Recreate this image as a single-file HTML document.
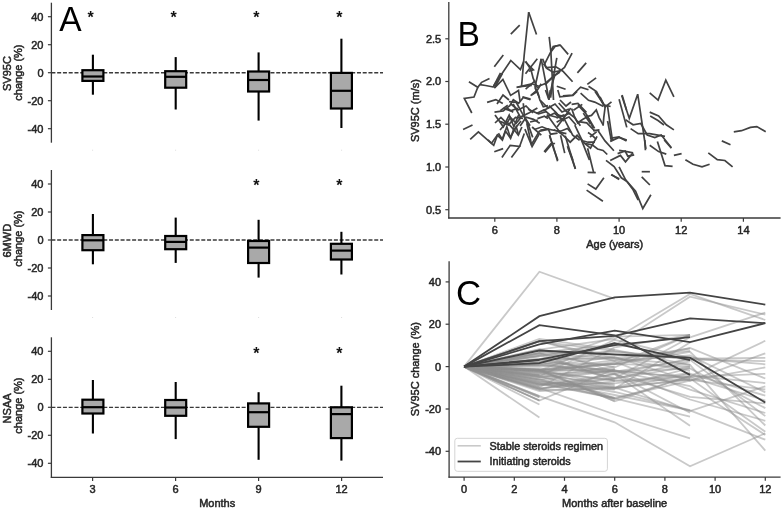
<!DOCTYPE html>
<html><head><meta charset="utf-8"><style>
html,body{margin:0;padding:0;background:#fff;}
svg{display:block;font-family:"Liberation Sans", sans-serif;will-change:transform;}
.s{stroke:#262626;stroke-width:0.5px;}
</style></head><body>
<svg width="783" height="510" viewBox="0 0 783 510">

<line x1="51.4" y1="2.7" x2="51.4" y2="142.7" stroke="#3a3a3a" stroke-width="1.3" />
<line x1="47.9" y1="16.7" x2="51.4" y2="16.7" stroke="#3a3a3a" stroke-width="1.2" />
<text class="s" x="43.5" y="20.6" font-size="11" text-anchor="end" fill="#262626" >40</text>
<line x1="47.9" y1="44.7" x2="51.4" y2="44.7" stroke="#3a3a3a" stroke-width="1.2" />
<text class="s" x="43.5" y="48.6" font-size="11" text-anchor="end" fill="#262626" >20</text>
<line x1="47.9" y1="72.7" x2="51.4" y2="72.7" stroke="#3a3a3a" stroke-width="1.2" />
<text class="s" x="43.5" y="76.6" font-size="11" text-anchor="end" fill="#262626" >0</text>
<line x1="47.9" y1="100.7" x2="51.4" y2="100.7" stroke="#3a3a3a" stroke-width="1.2" />
<text class="s" x="43.5" y="104.6" font-size="11" text-anchor="end" fill="#262626" >-20</text>
<line x1="47.9" y1="128.7" x2="51.4" y2="128.7" stroke="#3a3a3a" stroke-width="1.2" />
<text class="s" x="43.5" y="132.6" font-size="11" text-anchor="end" fill="#262626" >-40</text>
<line x1="51.4" y1="72.7" x2="383" y2="72.7" stroke="#3a3a3a" stroke-width="1.35" stroke-dasharray="4 1.765"/>
<line x1="51.4" y1="170" x2="51.4" y2="310" stroke="#3a3a3a" stroke-width="1.3" />
<line x1="47.9" y1="184" x2="51.4" y2="184" stroke="#3a3a3a" stroke-width="1.2" />
<text class="s" x="43.5" y="187.9" font-size="11" text-anchor="end" fill="#262626" >40</text>
<line x1="47.9" y1="212" x2="51.4" y2="212" stroke="#3a3a3a" stroke-width="1.2" />
<text class="s" x="43.5" y="215.9" font-size="11" text-anchor="end" fill="#262626" >20</text>
<line x1="47.9" y1="240" x2="51.4" y2="240" stroke="#3a3a3a" stroke-width="1.2" />
<text class="s" x="43.5" y="243.9" font-size="11" text-anchor="end" fill="#262626" >0</text>
<line x1="47.9" y1="268" x2="51.4" y2="268" stroke="#3a3a3a" stroke-width="1.2" />
<text class="s" x="43.5" y="271.9" font-size="11" text-anchor="end" fill="#262626" >-20</text>
<line x1="47.9" y1="296" x2="51.4" y2="296" stroke="#3a3a3a" stroke-width="1.2" />
<text class="s" x="43.5" y="299.9" font-size="11" text-anchor="end" fill="#262626" >-40</text>
<line x1="51.4" y1="240" x2="383" y2="240" stroke="#3a3a3a" stroke-width="1.35" stroke-dasharray="4 1.765"/>
<line x1="51.4" y1="337.3" x2="51.4" y2="477.9" stroke="#3a3a3a" stroke-width="1.3" />
<line x1="47.9" y1="351.3" x2="51.4" y2="351.3" stroke="#3a3a3a" stroke-width="1.2" />
<text class="s" x="43.5" y="355.2" font-size="11" text-anchor="end" fill="#262626" >40</text>
<line x1="47.9" y1="379.3" x2="51.4" y2="379.3" stroke="#3a3a3a" stroke-width="1.2" />
<text class="s" x="43.5" y="383.2" font-size="11" text-anchor="end" fill="#262626" >20</text>
<line x1="47.9" y1="407.3" x2="51.4" y2="407.3" stroke="#3a3a3a" stroke-width="1.2" />
<text class="s" x="43.5" y="411.2" font-size="11" text-anchor="end" fill="#262626" >0</text>
<line x1="47.9" y1="435.3" x2="51.4" y2="435.3" stroke="#3a3a3a" stroke-width="1.2" />
<text class="s" x="43.5" y="439.2" font-size="11" text-anchor="end" fill="#262626" >-20</text>
<line x1="47.9" y1="463.3" x2="51.4" y2="463.3" stroke="#3a3a3a" stroke-width="1.2" />
<text class="s" x="43.5" y="467.2" font-size="11" text-anchor="end" fill="#262626" >-40</text>
<line x1="51.4" y1="407.3" x2="383" y2="407.3" stroke="#3a3a3a" stroke-width="1.35" stroke-dasharray="4 1.765"/>
<line x1="50.8" y1="477.3" x2="383" y2="477.3" stroke="#3a3a3a" stroke-width="1.3" />
<line x1="92.6" y1="477.3" x2="92.6" y2="481" stroke="#3a3a3a" stroke-width="1.2" />
<text class="s" x="92.6" y="492.7" font-size="11" text-anchor="middle" fill="#262626" >3</text>
<line x1="175.6" y1="477.3" x2="175.6" y2="481" stroke="#3a3a3a" stroke-width="1.2" />
<text class="s" x="175.6" y="492.7" font-size="11" text-anchor="middle" fill="#262626" >6</text>
<line x1="258.6" y1="477.3" x2="258.6" y2="481" stroke="#3a3a3a" stroke-width="1.2" />
<text class="s" x="258.6" y="492.7" font-size="11" text-anchor="middle" fill="#262626" >9</text>
<line x1="341.6" y1="477.3" x2="341.6" y2="481" stroke="#3a3a3a" stroke-width="1.2" />
<text class="s" x="341.6" y="492.7" font-size="11" text-anchor="middle" fill="#262626" >12</text>
<text class="s" x="217.2" y="506.6" font-size="11" text-anchor="middle" fill="#262626" >Months</text>
<rect x="92.1" y="149.7" width="1" height="1" fill="#ddd"/>
<rect x="92.1" y="317" width="1" height="1" fill="#ddd"/>
<rect x="175.1" y="149.7" width="1" height="1" fill="#ddd"/>
<rect x="175.1" y="317" width="1" height="1" fill="#ddd"/>
<rect x="258.1" y="149.7" width="1" height="1" fill="#ddd"/>
<rect x="258.1" y="317" width="1" height="1" fill="#ddd"/>
<rect x="341.1" y="149.7" width="1" height="1" fill="#ddd"/>
<rect x="341.1" y="317" width="1" height="1" fill="#ddd"/>
<text class="s" transform="translate(10.5,73.6) rotate(-90)" font-size="11" text-anchor="middle" fill="#262626">SV95C</text>
<text class="s" transform="translate(21.5,72.6) rotate(-90)" font-size="11" text-anchor="middle" fill="#262626">change (%)</text>
<text class="s" transform="translate(10.5,240.7) rotate(-90)" font-size="11" text-anchor="middle" fill="#262626">6MWD</text>
<text class="s" transform="translate(21.5,238.6) rotate(-90)" font-size="11" text-anchor="middle" fill="#262626">change (%)</text>
<text class="s" transform="translate(10.5,408.4) rotate(-90)" font-size="11" text-anchor="middle" fill="#262626">NSAA</text>
<text class="s" transform="translate(21.5,405.6) rotate(-90)" font-size="11" text-anchor="middle" fill="#262626">change (%)</text>
<line x1="92.9" y1="54.7" x2="92.9" y2="70.2" stroke="#000" stroke-width="2.1" />
<line x1="92.9" y1="80.9" x2="92.9" y2="94.7" stroke="#000" stroke-width="2.1" />
<rect x="82.4" y="70.2" width="21" height="10.7" fill="#a9a9a9" stroke="#000" stroke-width="2.2"/>
<line x1="82.4" y1="76.5" x2="103.4" y2="76.5" stroke="#000" stroke-width="2.2" />
<line x1="175.7" y1="57.1" x2="175.7" y2="71.2" stroke="#000" stroke-width="2.1" />
<line x1="175.7" y1="87.7" x2="175.7" y2="109.5" stroke="#000" stroke-width="2.1" />
<rect x="165.2" y="71.2" width="21" height="16.5" fill="#a9a9a9" stroke="#000" stroke-width="2.2"/>
<line x1="165.2" y1="76.8" x2="186.2" y2="76.8" stroke="#000" stroke-width="2.2" />
<line x1="258.6" y1="52.4" x2="258.6" y2="71.5" stroke="#000" stroke-width="2.1" />
<line x1="258.6" y1="91.5" x2="258.6" y2="120.6" stroke="#000" stroke-width="2.1" />
<rect x="248.1" y="71.5" width="21" height="20" fill="#a9a9a9" stroke="#000" stroke-width="2.2"/>
<line x1="248.1" y1="80" x2="269.1" y2="80" stroke="#000" stroke-width="2.2" />
<line x1="341.4" y1="38.7" x2="341.4" y2="72.9" stroke="#000" stroke-width="2.1" />
<line x1="341.4" y1="108.5" x2="341.4" y2="128" stroke="#000" stroke-width="2.1" />
<rect x="330.9" y="72.9" width="21" height="35.6" fill="#a9a9a9" stroke="#000" stroke-width="2.2"/>
<line x1="330.9" y1="90.8" x2="351.9" y2="90.8" stroke="#000" stroke-width="2.2" />
<line x1="92.9" y1="214" x2="92.9" y2="235.1" stroke="#000" stroke-width="2.1" />
<line x1="92.9" y1="250.2" x2="92.9" y2="264.3" stroke="#000" stroke-width="2.1" />
<rect x="82.4" y="235.1" width="21" height="15.1" fill="#a9a9a9" stroke="#000" stroke-width="2.2"/>
<line x1="82.4" y1="240.3" x2="103.4" y2="240.3" stroke="#000" stroke-width="2.2" />
<line x1="175.7" y1="217.6" x2="175.7" y2="236" stroke="#000" stroke-width="2.1" />
<line x1="175.7" y1="249.2" x2="175.7" y2="262.9" stroke="#000" stroke-width="2.1" />
<rect x="165.2" y="236" width="21" height="13.2" fill="#a9a9a9" stroke="#000" stroke-width="2.2"/>
<line x1="165.2" y1="241.9" x2="186.2" y2="241.9" stroke="#000" stroke-width="2.2" />
<line x1="258.6" y1="219.8" x2="258.6" y2="241" stroke="#000" stroke-width="2.1" />
<line x1="258.6" y1="263" x2="258.6" y2="277.6" stroke="#000" stroke-width="2.1" />
<rect x="248.1" y="241" width="21" height="22" fill="#a9a9a9" stroke="#000" stroke-width="2.2"/>
<line x1="248.1" y1="247.6" x2="269.1" y2="247.6" stroke="#000" stroke-width="2.2" />
<line x1="341.4" y1="231.8" x2="341.4" y2="243.8" stroke="#000" stroke-width="2.1" />
<line x1="341.4" y1="259.5" x2="341.4" y2="274.5" stroke="#000" stroke-width="2.1" />
<rect x="330.9" y="243.8" width="21" height="15.7" fill="#a9a9a9" stroke="#000" stroke-width="2.2"/>
<line x1="330.9" y1="250.6" x2="351.9" y2="250.6" stroke="#000" stroke-width="2.2" />
<line x1="92.9" y1="380" x2="92.9" y2="399.7" stroke="#000" stroke-width="2.1" />
<line x1="92.9" y1="413.5" x2="92.9" y2="433.5" stroke="#000" stroke-width="2.1" />
<rect x="82.4" y="399.7" width="21" height="13.8" fill="#a9a9a9" stroke="#000" stroke-width="2.2"/>
<line x1="82.4" y1="407.2" x2="103.4" y2="407.2" stroke="#000" stroke-width="2.2" />
<line x1="175.7" y1="382" x2="175.7" y2="400" stroke="#000" stroke-width="2.1" />
<line x1="175.7" y1="415.8" x2="175.7" y2="439.1" stroke="#000" stroke-width="2.1" />
<rect x="165.2" y="400" width="21" height="15.8" fill="#a9a9a9" stroke="#000" stroke-width="2.2"/>
<line x1="165.2" y1="407.5" x2="186.2" y2="407.5" stroke="#000" stroke-width="2.2" />
<line x1="258.6" y1="392.2" x2="258.6" y2="403.4" stroke="#000" stroke-width="2.1" />
<line x1="258.6" y1="426.8" x2="258.6" y2="459.8" stroke="#000" stroke-width="2.1" />
<rect x="248.1" y="403.4" width="21" height="23.4" fill="#a9a9a9" stroke="#000" stroke-width="2.2"/>
<line x1="248.1" y1="412.2" x2="269.1" y2="412.2" stroke="#000" stroke-width="2.2" />
<line x1="341.4" y1="385.7" x2="341.4" y2="407.3" stroke="#000" stroke-width="2.1" />
<line x1="341.4" y1="438.1" x2="341.4" y2="460.6" stroke="#000" stroke-width="2.1" />
<rect x="330.9" y="407.3" width="21" height="30.8" fill="#a9a9a9" stroke="#000" stroke-width="2.2"/>
<line x1="330.9" y1="414.1" x2="351.9" y2="414.1" stroke="#000" stroke-width="2.2" />
<text x="90.6" y="22.8" font-size="16" text-anchor="middle" fill="#111" font-weight="bold">*</text>
<text x="173.5" y="22.8" font-size="16" text-anchor="middle" fill="#111" font-weight="bold">*</text>
<text x="256.4" y="22.8" font-size="16" text-anchor="middle" fill="#111" font-weight="bold">*</text>
<text x="339.3" y="22.8" font-size="16" text-anchor="middle" fill="#111" font-weight="bold">*</text>
<text x="256.4" y="190.8" font-size="16" text-anchor="middle" fill="#111" font-weight="bold">*</text>
<text x="339.3" y="190.8" font-size="16" text-anchor="middle" fill="#111" font-weight="bold">*</text>
<text x="256.4" y="358.6" font-size="16" text-anchor="middle" fill="#111" font-weight="bold">*</text>
<text x="339.3" y="358.6" font-size="16" text-anchor="middle" fill="#111" font-weight="bold">*</text>
<text transform="translate(59.2,30.7) scale(0.97,1)" font-size="34.6" fill="#000">A</text>
<text transform="translate(457.5,45.8) scale(0.97,1)" font-size="34.6" fill="#000">B</text>
<text transform="translate(456.0,304.6) scale(0.97,1)" font-size="35.8" fill="#000">C</text>
<line x1="448.8" y1="2.1" x2="448.8" y2="218.6" stroke="#3a3a3a" stroke-width="1.3" />
<line x1="448.2" y1="218" x2="780.6" y2="218" stroke="#3a3a3a" stroke-width="1.3" />
<line x1="445.3" y1="38.8" x2="448.8" y2="38.8" stroke="#3a3a3a" stroke-width="1.2" />
<text class="s" x="441.2" y="42.7" font-size="11" text-anchor="end" fill="#262626" >2.5</text>
<line x1="445.3" y1="81.5" x2="448.8" y2="81.5" stroke="#3a3a3a" stroke-width="1.2" />
<text class="s" x="441.2" y="85.4" font-size="11" text-anchor="end" fill="#262626" >2.0</text>
<line x1="445.3" y1="124.2" x2="448.8" y2="124.2" stroke="#3a3a3a" stroke-width="1.2" />
<text class="s" x="441.2" y="128.1" font-size="11" text-anchor="end" fill="#262626" >1.5</text>
<line x1="445.3" y1="167" x2="448.8" y2="167" stroke="#3a3a3a" stroke-width="1.2" />
<text class="s" x="441.2" y="170.9" font-size="11" text-anchor="end" fill="#262626" >1.0</text>
<line x1="445.3" y1="209.7" x2="448.8" y2="209.7" stroke="#3a3a3a" stroke-width="1.2" />
<text class="s" x="441.2" y="213.6" font-size="11" text-anchor="end" fill="#262626" >0.5</text>
<line x1="494.8" y1="218" x2="494.8" y2="221.7" stroke="#3a3a3a" stroke-width="1.2" />
<text class="s" x="494.8" y="234.1" font-size="11" text-anchor="middle" fill="#262626" >6</text>
<line x1="556.9" y1="218" x2="556.9" y2="221.7" stroke="#3a3a3a" stroke-width="1.2" />
<text class="s" x="556.9" y="234.1" font-size="11" text-anchor="middle" fill="#262626" >8</text>
<line x1="619.1" y1="218" x2="619.1" y2="221.7" stroke="#3a3a3a" stroke-width="1.2" />
<text class="s" x="619.1" y="234.1" font-size="11" text-anchor="middle" fill="#262626" >10</text>
<line x1="681.2" y1="218" x2="681.2" y2="221.7" stroke="#3a3a3a" stroke-width="1.2" />
<text class="s" x="681.2" y="234.1" font-size="11" text-anchor="middle" fill="#262626" >12</text>
<line x1="743.4" y1="218" x2="743.4" y2="221.7" stroke="#3a3a3a" stroke-width="1.2" />
<text class="s" x="743.4" y="234.1" font-size="11" text-anchor="middle" fill="#262626" >14</text>
<text class="s" x="614.7" y="248.4" font-size="11" text-anchor="middle" fill="#262626" >Age (years)</text>
<text class="s" transform="translate(418.5,110.6) rotate(-90)" font-size="11" text-anchor="middle" fill="#262626">SV95C (m/s)</text>
<polyline points="510.8,34.1 519.7,25.2" fill="none" stroke="#424242" stroke-width="1.7" stroke-linejoin="miter" />
<polyline points="528.7,12.2 536.5,34.5" fill="none" stroke="#424242" stroke-width="1.7" stroke-linejoin="miter" />
<polyline points="528.7,12.2 524.2,55 521.6,86" fill="none" stroke="#424242" stroke-width="1.7" stroke-linejoin="miter" />
<polyline points="494.3,66.7 503.3,55" fill="none" stroke="#424242" stroke-width="1.7" stroke-linejoin="miter" />
<polyline points="493,87.3 500.5,72.9" fill="none" stroke="#424242" stroke-width="1.7" stroke-linejoin="miter" />
<polyline points="494.8,87.5 502.3,73.5" fill="none" stroke="#424242" stroke-width="1.7" stroke-linejoin="miter" />
<polyline points="493.6,85.9 510.8,60.5 520.4,69.5 523.9,61.2" fill="none" stroke="#424242" stroke-width="1.7" stroke-linejoin="miter" />
<polyline points="468.9,81.8 477.8,87.3 481.6,82.3 489.5,78.4" fill="none" stroke="#424242" stroke-width="1.7" stroke-linejoin="miter" />
<polyline points="477.8,87.3 474,97 464.3,98.5 471.8,113" fill="none" stroke="#424242" stroke-width="1.7" stroke-linejoin="miter" />
<polyline points="480,84.7 485.6,85.5 493.4,87" fill="none" stroke="#424242" stroke-width="1.7" stroke-linejoin="miter" />
<polyline points="494.3,88.1 502.9,79.5 510.6,95.4 518.5,90.5 520,101" fill="none" stroke="#424242" stroke-width="1.7" stroke-linejoin="miter" />
<polyline points="487.1,102.4 495.8,99.6 502.8,103.5" fill="none" stroke="#424242" stroke-width="1.7" stroke-linejoin="miter" />
<polyline points="463.1,129.4 472.5,125.1" fill="none" stroke="#424242" stroke-width="1.7" stroke-linejoin="miter" />
<polyline points="470.2,139.4 478.4,131.8 493.7,145.3 497.8,134.1" fill="none" stroke="#424242" stroke-width="1.7" stroke-linejoin="miter" />
<polyline points="494.3,151.8 503.1,148.6" fill="none" stroke="#424242" stroke-width="1.7" stroke-linejoin="miter" />
<polyline points="501.9,157.6 510.2,145.3 519.6,146.5 511.4,157.6" fill="none" stroke="#424242" stroke-width="1.7" stroke-linejoin="miter" />
<polyline points="519.6,146.5 524.3,133.5" fill="none" stroke="#424242" stroke-width="1.7" stroke-linejoin="miter" />
<polyline points="544.8,152.4 552.4,143.4 557.6,161.3" fill="none" stroke="#424242" stroke-width="1.7" stroke-linejoin="miter" />
<polyline points="565.2,135.8 575.4,169" fill="none" stroke="#424242" stroke-width="1.7" stroke-linejoin="miter" />
<polyline points="586.6,190.1 602.9,201.3" fill="none" stroke="#424242" stroke-width="1.7" stroke-linejoin="miter" />
<polyline points="587.6,183.9 595.8,189 603.9,177.8" fill="none" stroke="#424242" stroke-width="1.7" stroke-linejoin="miter" />
<polyline points="587.6,172.3 595.8,172.7" fill="none" stroke="#424242" stroke-width="1.7" stroke-linejoin="miter" />
<polyline points="587.6,148.2 593.7,172.7" fill="none" stroke="#424242" stroke-width="1.7" stroke-linejoin="miter" />
<polyline points="568.2,148.2 575.3,168.6" fill="none" stroke="#424242" stroke-width="1.7" stroke-linejoin="miter" />
<polyline points="606,160.4 614.1,166.6 621.3,177.8 627.4,181.9 635.6,191.1 642.8,208.5 650.9,194.8" fill="none" stroke="#424242" stroke-width="1.7" stroke-linejoin="miter" />
<polyline points="611.1,174.7 619.3,178.8" fill="none" stroke="#424242" stroke-width="1.7" stroke-linejoin="miter" />
<polyline points="641.7,171.7 649.9,171.7" fill="none" stroke="#424242" stroke-width="1.7" stroke-linejoin="miter" />
<polyline points="641.7,176.8 649.9,185" fill="none" stroke="#424242" stroke-width="1.7" stroke-linejoin="miter" />
<polyline points="657.4,141.4 665,165.6 672.6,166.4" fill="none" stroke="#424242" stroke-width="1.7" stroke-linejoin="miter" />
<polyline points="673.9,155.4 681.6,153.6" fill="none" stroke="#424242" stroke-width="1.7" stroke-linejoin="miter" />
<polyline points="685.4,159.7 693,164.3 702,166.9 709.6,164.3" fill="none" stroke="#424242" stroke-width="1.7" stroke-linejoin="miter" />
<polyline points="708.3,152.8 717.3,159.7 724.9,160.5 732.6,166.9" fill="none" stroke="#424242" stroke-width="1.7" stroke-linejoin="miter" />
<polyline points="721.8,140.9 730.5,144.7" fill="none" stroke="#424242" stroke-width="1.7" stroke-linejoin="miter" />
<polyline points="733.8,131.9 741.5,130.7 750.4,127.4 756.8,126.6 765.7,131.7" fill="none" stroke="#424242" stroke-width="1.7" stroke-linejoin="miter" />
<polyline points="649.7,92.9 658.1,100.1 665.8,80.2 673.9,96.8" fill="none" stroke="#424242" stroke-width="1.7" stroke-linejoin="miter" />
<polyline points="619.1,99.3 626.8,127.4" fill="none" stroke="#424242" stroke-width="1.7" stroke-linejoin="miter" />
<polyline points="621.7,95.5 629.3,118.4 637.7,94.2 642.1,123.5 645.9,149" fill="none" stroke="#424242" stroke-width="1.7" stroke-linejoin="miter" />
<polyline points="625.5,119.7 633.1,124.8 640.8,123.5 647.2,135 654.8,137.5 661.2,135 671.4,147.7" fill="none" stroke="#424242" stroke-width="1.7" stroke-linejoin="miter" />
<polyline points="630.6,128.6 638.2,133.7 649.7,133.7 665,136.3" fill="none" stroke="#424242" stroke-width="1.7" stroke-linejoin="miter" />
<polyline points="649.7,112.1 658.6,115.9 666.3,124.8 673.9,129.9" fill="none" stroke="#424242" stroke-width="1.7" stroke-linejoin="miter" />
<polyline points="650.2,116 658,120.5 664,125" fill="none" stroke="#424242" stroke-width="1.7" stroke-linejoin="miter" />
<polyline points="649.7,145.2 658.6,151.6 666.3,154.1" fill="none" stroke="#424242" stroke-width="1.7" stroke-linejoin="miter" />
<polyline points="619.1,166.9 625.5,179.6 633.1,189.8 638.2,200" fill="none" stroke="#424242" stroke-width="1.7" stroke-linejoin="miter" />
<polyline points="611.5,174.5 619.1,179.6" fill="none" stroke="#424242" stroke-width="1.7" stroke-linejoin="miter" />
<polyline points="600,96.8 605.1,107 611.5,101.9" fill="none" stroke="#424242" stroke-width="1.7" stroke-linejoin="miter" />
<polyline points="610.2,141.4 619.1,137.5 626.8,140.1" fill="none" stroke="#424242" stroke-width="1.7" stroke-linejoin="miter" />
<polyline points="607.6,121 611.5,141.4" fill="none" stroke="#424242" stroke-width="1.7" stroke-linejoin="miter" />
<polyline points="619.1,150.3 626.8,151.6 633.1,152.8" fill="none" stroke="#424242" stroke-width="1.7" stroke-linejoin="miter" />
<polyline points="610.2,160.5 620.4,155.4 625.5,161.8 633.1,152.8" fill="none" stroke="#424242" stroke-width="1.7" stroke-linejoin="miter" />
<polyline points="549.2,36.8 550.9,51.8 553.2,46.5 560.3,45.1 568.2,54.4" fill="none" stroke="#424242" stroke-width="1.7" stroke-linejoin="miter" />
<polyline points="572.1,53.2 564.5,67.5 553.7,76.2 545,85" fill="none" stroke="#424242" stroke-width="1.7" stroke-linejoin="miter" />
<polyline points="577.4,72.9 586.2,62.9" fill="none" stroke="#424242" stroke-width="1.7" stroke-linejoin="miter" />
<polyline points="587.3,84.4 596.1,77.9" fill="none" stroke="#424242" stroke-width="1.7" stroke-linejoin="miter" />
<polyline points="556.8,57.9 553.2,78.2 550.6,97.6" fill="none" stroke="#424242" stroke-width="1.7" stroke-linejoin="miter" />
<polyline points="542.6,58.8 546.2,67.6 555.9,66.8 562.9,71.2 572.6,81.8" fill="none" stroke="#424242" stroke-width="1.7" stroke-linejoin="miter" />
<polyline points="556.8,86.2 565.6,89.2" fill="none" stroke="#424242" stroke-width="1.7" stroke-linejoin="miter" />
<polyline points="562.9,95.9 572.6,95 580.6,87.1 588.5,89.7" fill="none" stroke="#424242" stroke-width="1.7" stroke-linejoin="miter" />
<polyline points="588.5,86.2 596.5,91.5 603.5,104.7 610.6,106.5" fill="none" stroke="#424242" stroke-width="1.7" stroke-linejoin="miter" />
<polyline points="580.6,93.2 588.5,100.3 594.7,102.1 603.5,106.5" fill="none" stroke="#424242" stroke-width="1.7" stroke-linejoin="miter" />
<polyline points="622.1,95 626.5,110" fill="none" stroke="#424242" stroke-width="1.7" stroke-linejoin="miter" />
<polyline points="541.2,58.8 535,87 539.6,98" fill="none" stroke="#424242" stroke-width="1.7" stroke-linejoin="miter" />
<polyline points="541.2,58.8 549,99.6 552.2,83.9 555,74.5" fill="none" stroke="#424242" stroke-width="1.7" stroke-linejoin="miter" />
<polyline points="525.5,73.7 537.3,58.8" fill="none" stroke="#424242" stroke-width="1.7" stroke-linejoin="miter" />
<polyline points="525.6,61.2 531,69.8 533.2,78.4 537.5,88.1" fill="none" stroke="#424242" stroke-width="1.7" stroke-linejoin="miter" />
<polyline points="550.8,50.7 552.7,85 553.5,100" fill="none" stroke="#424242" stroke-width="1.7" stroke-linejoin="miter" />
<polyline points="525.6,89.2 535.3,80.6" fill="none" stroke="#424242" stroke-width="1.7" stroke-linejoin="miter" />
<polyline points="525.5,62 533.4,69.8 528.7,71.3" fill="none" stroke="#424242" stroke-width="1.7" stroke-linejoin="miter" />
<polyline points="517.7,87 531.8,85.5" fill="none" stroke="#424242" stroke-width="1.7" stroke-linejoin="miter" />
<polyline points="609.9,138.3 618.9,137 626.5,140.9" fill="none" stroke="#424242" stroke-width="1.7" stroke-linejoin="miter" />
<polyline points="617.6,153.6 625.2,151 627.8,156.2 634.2,154.9" fill="none" stroke="#424242" stroke-width="1.7" stroke-linejoin="miter" />
<polyline points="607.4,105.1 609.9,123 612.5,140.9" fill="none" stroke="#424242" stroke-width="1.7" stroke-linejoin="miter" />
<polyline points="644.8,140 645.4,150.2" fill="none" stroke="#424242" stroke-width="1.7" stroke-linejoin="miter" />
<polyline points="664.2,140 671.4,148.2" fill="none" stroke="#424242" stroke-width="1.7" stroke-linejoin="miter" />
<polyline points="494.5,112.1 503.3,110.9 509.8,105.6 513.3,99.8 518.6,103.3 523.3,97.4 530.4,99.8" fill="none" stroke="#424242" stroke-width="1.7" stroke-linejoin="miter" />
<polyline points="495,115 503.3,126.8 509.2,115 513.9,126.8 518.6,115" fill="none" stroke="#424242" stroke-width="1.7" stroke-linejoin="miter" />
<polyline points="495,123 500.9,117.4 506.8,123.3 510.4,117.4 516.2,123.3 521,117.4" fill="none" stroke="#424242" stroke-width="1.7" stroke-linejoin="miter" />
<polyline points="488,139.8 491.5,143.3 497.4,135.1 502.1,139.8 506.8,126.8 510.4,137.4 516.2,126.8 518.6,135.1" fill="none" stroke="#424242" stroke-width="1.7" stroke-linejoin="miter" />
<polyline points="523.3,103.3 524.5,117.4 528.6,125.6 532.7,137.4" fill="none" stroke="#424242" stroke-width="1.7" stroke-linejoin="miter" />
<polyline points="526.8,123.3 531.5,144.5 539.8,130.4" fill="none" stroke="#424242" stroke-width="1.7" stroke-linejoin="miter" />
<polyline points="528,109.2 538.6,113.9 546.8,111.5" fill="none" stroke="#424242" stroke-width="1.7" stroke-linejoin="miter" />
<polyline points="531.5,95.1 537.4,91.5 539.8,99.8 543.3,106.8 548,105.6" fill="none" stroke="#424242" stroke-width="1.7" stroke-linejoin="miter" />
<polyline points="535.1,88 538.6,95.1" fill="none" stroke="#424242" stroke-width="1.7" stroke-linejoin="miter" />
<polyline points="537.4,118.6 544.5,116.2 548,118.6" fill="none" stroke="#424242" stroke-width="1.7" stroke-linejoin="miter" />
<polyline points="535.1,129.2 542.1,126.8 548,129.2" fill="none" stroke="#424242" stroke-width="1.7" stroke-linejoin="miter" />
<polyline points="545.5,90 548.9,99.6 550.3,90" fill="none" stroke="#424242" stroke-width="1.7" stroke-linejoin="miter" />
<polyline points="557.8,90 559.9,96.9 572.9,95.5 577.1,91.4" fill="none" stroke="#424242" stroke-width="1.7" stroke-linejoin="miter" />
<polyline points="594.9,91.4 600.4,99.6 605.2,106.5 603.8,117.4 603.1,125.7" fill="none" stroke="#424242" stroke-width="1.7" stroke-linejoin="miter" />
<polyline points="571.6,108.5 574.3,116.1 577.7,122.9 582.5,119.5 588.7,116.1 591.5,115.4 596.3,109.9 599,117.4 603.1,124.9" fill="none" stroke="#424242" stroke-width="1.7" stroke-linejoin="miter" />
<polyline points="578.4,121.6 586.7,122.9 594.9,131.2" fill="none" stroke="#424242" stroke-width="1.7" stroke-linejoin="miter" />
<polyline points="588,132.5 592.2,135.3 596.3,139.4" fill="none" stroke="#424242" stroke-width="1.7" stroke-linejoin="miter" />
<polyline points="540,131.2 548.2,129.1 555.1,130.5 560.6,131.2 567.4,128.4 570.9,132.5" fill="none" stroke="#424242" stroke-width="1.7" stroke-linejoin="miter" />
<polyline points="553.7,129.8 557.8,131.2 563.3,135.3 570.2,142.2 577.1,135.3 582.5,140.8 588,142.2 594.9,142.2" fill="none" stroke="#424242" stroke-width="1.7" stroke-linejoin="miter" />
<polyline points="544.1,151.8 551,143.5 555.1,143.5" fill="none" stroke="#424242" stroke-width="1.7" stroke-linejoin="miter" />
<polyline points="549.6,135.3 553.7,149 557.8,160" fill="none" stroke="#424242" stroke-width="1.7" stroke-linejoin="miter" />
<polyline points="560.6,135.3 564.7,153.1" fill="none" stroke="#424242" stroke-width="1.7" stroke-linejoin="miter" />
<polyline points="567.4,146.3 572.9,160" fill="none" stroke="#424242" stroke-width="1.7" stroke-linejoin="miter" />
<polyline points="581.2,139.4 589.4,160" fill="none" stroke="#424242" stroke-width="1.7" stroke-linejoin="miter" />
<polyline points="585.3,143.5 592.2,144.9 597.6,149 603.1,150.4 607.3,154.5" fill="none" stroke="#424242" stroke-width="1.7" stroke-linejoin="miter" />
<polyline points="544.7,63.8 550.6,52.1 555.3,46.2 560,45" fill="none" stroke="#424242" stroke-width="1.7" stroke-linejoin="miter" />
<polyline points="543.5,63.8 547.1,68.5 552.9,72.1 560,70.9" fill="none" stroke="#424242" stroke-width="1.7" stroke-linejoin="miter" />
<polyline points="516.5,87.4 531.8,83.8 538.8,86.2 544.7,83.8 552.9,76.8 560,72.1" fill="none" stroke="#424242" stroke-width="1.7" stroke-linejoin="miter" />
<polyline points="530.6,95.6 537.6,89.7 541.2,83.8" fill="none" stroke="#424242" stroke-width="1.7" stroke-linejoin="miter" />
<polyline points="522.4,96.8 530.6,99.1" fill="none" stroke="#424242" stroke-width="1.7" stroke-linejoin="miter" />
<polyline points="498.4,133.2 502.5,139.8 505.5,131.1 510.6,138.3 513.7,129.1 518.3,135.2 521.9,127" fill="none" stroke="#424242" stroke-width="1.7" stroke-linejoin="miter" />
<polyline points="524.9,129.1 532.1,146.5 539.2,134.2" fill="none" stroke="#424242" stroke-width="1.7" stroke-linejoin="miter" />
<polyline points="532.1,127 541.3,135.2" fill="none" stroke="#424242" stroke-width="1.7" stroke-linejoin="miter" />
<polyline points="540.3,130.1 548.4,129.1 550.5,134.2 557.6,133.2" fill="none" stroke="#424242" stroke-width="1.7" stroke-linejoin="miter" />
<polyline points="549.5,135.2 552.5,144.4" fill="none" stroke="#424242" stroke-width="1.7" stroke-linejoin="miter" />
<polyline points="540,100 548,108 555,104 562,112 569,109" fill="none" stroke="#424242" stroke-width="1.7" stroke-linejoin="miter" />
<polyline points="555,112 562,120 569,117 576,125" fill="none" stroke="#424242" stroke-width="1.7" stroke-linejoin="miter" />
<polyline points="560,100 566,106 571,102" fill="none" stroke="#424242" stroke-width="1.7" stroke-linejoin="miter" />
<polyline points="511,104 518,110 526,106 533,113" fill="none" stroke="#424242" stroke-width="1.7" stroke-linejoin="miter" />
<polyline points="497,104 503,95 509,100" fill="none" stroke="#424242" stroke-width="1.7" stroke-linejoin="miter" />
<polyline points="500,130 507,122 514,130 521,121" fill="none" stroke="#424242" stroke-width="1.7" stroke-linejoin="miter" />
<polyline points="556.6,114.6 562.8,116.3 570.5,112.7" fill="none" stroke="#424242" stroke-width="1.7" stroke-linejoin="miter" />
<polyline points="509,101.6 516.2,102.3 522.4,113.6 530.1,125.7" fill="none" stroke="#424242" stroke-width="1.7" stroke-linejoin="miter" />
<polyline points="556.6,122.2 563.8,118.1 572.7,135.2 579.6,140.3" fill="none" stroke="#424242" stroke-width="1.7" stroke-linejoin="miter" />
<polyline points="530.1,122 537.8,120.2" fill="none" stroke="#424242" stroke-width="1.7" stroke-linejoin="miter" />
<polyline points="536.5,113.6 544.2,109.8 550.4,115.5 558.4,117.7" fill="none" stroke="#424242" stroke-width="1.7" stroke-linejoin="miter" />
<polyline points="545.5,117.6 554.3,113.2 560.8,118.4" fill="none" stroke="#424242" stroke-width="1.7" stroke-linejoin="miter" />
<polyline points="500.3,110.6 507.8,105.2" fill="none" stroke="#424242" stroke-width="1.7" stroke-linejoin="miter" />
<polyline points="558.7,103 566,111.1 574.2,117.2 580.4,125.7" fill="none" stroke="#424242" stroke-width="1.7" stroke-linejoin="miter" />
<polyline points="500,121.4 508.4,124.9 515.5,117.4 523,118.4" fill="none" stroke="#424242" stroke-width="1.7" stroke-linejoin="miter" />
<polyline points="556.4,117.9 564.4,114.7" fill="none" stroke="#424242" stroke-width="1.7" stroke-linejoin="miter" />
<polyline points="542.5,111 550.3,106.9" fill="none" stroke="#424242" stroke-width="1.7" stroke-linejoin="miter" />
<polyline points="520.1,126.1 526.1,117.2 533.5,119.4 539.7,123.3" fill="none" stroke="#424242" stroke-width="1.7" stroke-linejoin="miter" />
<polyline points="503.4,108.4 510.6,110.9 517.9,108.3" fill="none" stroke="#424242" stroke-width="1.7" stroke-linejoin="miter" />
<polyline points="513.1,103.8 520.4,117.1 529.3,112.8 537.4,108" fill="none" stroke="#424242" stroke-width="1.7" stroke-linejoin="miter" />
<polyline points="506.5,107.7 513.2,112.2" fill="none" stroke="#424242" stroke-width="1.7" stroke-linejoin="miter" />
<polyline points="549,105.7 555.9,112.4 563.7,121.3" fill="none" stroke="#424242" stroke-width="1.7" stroke-linejoin="miter" />
<polyline points="557,127 564.5,117 570.7,107.9" fill="none" stroke="#424242" stroke-width="1.7" stroke-linejoin="miter" />
<polyline points="546.9,114.5 554.1,124.6 560.2,132.4 566.4,133.7" fill="none" stroke="#424242" stroke-width="1.7" stroke-linejoin="miter" />
<polyline points="578,105.1 585.7,113.3 593.4,128.1" fill="none" stroke="#424242" stroke-width="1.7" stroke-linejoin="miter" />
<polyline points="593.1,130.7 599.5,129.8" fill="none" stroke="#424242" stroke-width="1.7" stroke-linejoin="miter" />
<polyline points="597.6,130.1 605,140.9 613.9,150.8" fill="none" stroke="#424242" stroke-width="1.7" stroke-linejoin="miter" />
<polyline points="571.6,104.3 577.9,103.4 586.4,112.3" fill="none" stroke="#424242" stroke-width="1.7" stroke-linejoin="miter" />
<polyline points="573.4,110.3 582.3,104.4" fill="none" stroke="#424242" stroke-width="1.7" stroke-linejoin="miter" />
<polyline points="586.7,114.9 594.6,128.4" fill="none" stroke="#424242" stroke-width="1.7" stroke-linejoin="miter" />
<polyline points="583.3,113.1 590.4,123.8" fill="none" stroke="#424242" stroke-width="1.7" stroke-linejoin="miter" />
<polyline points="574.8,125.1 582.7,141.6 590.5,148.2 597.1,136.4" fill="none" stroke="#424242" stroke-width="1.7" stroke-linejoin="miter" />
<polyline points="590,137 596.7,131.6" fill="none" stroke="#424242" stroke-width="1.7" stroke-linejoin="miter" />
<line x1="449.1" y1="261.2" x2="449.1" y2="477.7" stroke="#3a3a3a" stroke-width="1.3" />
<line x1="448.5" y1="477.1" x2="780.6" y2="477.1" stroke="#3a3a3a" stroke-width="1.3" />
<line x1="445.6" y1="281.9" x2="449.1" y2="281.9" stroke="#3a3a3a" stroke-width="1.2" />
<text class="s" x="441.1" y="285.8" font-size="11" text-anchor="end" fill="#262626" >40</text>
<line x1="445.6" y1="324.2" x2="449.1" y2="324.2" stroke="#3a3a3a" stroke-width="1.2" />
<text class="s" x="441.1" y="328.1" font-size="11" text-anchor="end" fill="#262626" >20</text>
<line x1="445.6" y1="366.6" x2="449.1" y2="366.6" stroke="#3a3a3a" stroke-width="1.2" />
<text class="s" x="441.1" y="370.5" font-size="11" text-anchor="end" fill="#262626" >0</text>
<line x1="445.6" y1="409" x2="449.1" y2="409" stroke="#3a3a3a" stroke-width="1.2" />
<text class="s" x="441.1" y="412.9" font-size="11" text-anchor="end" fill="#262626" >-20</text>
<line x1="445.6" y1="451.3" x2="449.1" y2="451.3" stroke="#3a3a3a" stroke-width="1.2" />
<text class="s" x="441.1" y="455.2" font-size="11" text-anchor="end" fill="#262626" >-40</text>
<line x1="464.1" y1="477.1" x2="464.1" y2="480.8" stroke="#3a3a3a" stroke-width="1.2" />
<text class="s" x="464.1" y="492.9" font-size="11" text-anchor="middle" fill="#262626" >0</text>
<line x1="514.3" y1="477.1" x2="514.3" y2="480.8" stroke="#3a3a3a" stroke-width="1.2" />
<text class="s" x="514.3" y="492.9" font-size="11" text-anchor="middle" fill="#262626" >2</text>
<line x1="564.5" y1="477.1" x2="564.5" y2="480.8" stroke="#3a3a3a" stroke-width="1.2" />
<text class="s" x="564.5" y="492.9" font-size="11" text-anchor="middle" fill="#262626" >4</text>
<line x1="614.7" y1="477.1" x2="614.7" y2="480.8" stroke="#3a3a3a" stroke-width="1.2" />
<text class="s" x="614.7" y="492.9" font-size="11" text-anchor="middle" fill="#262626" >6</text>
<line x1="664.9" y1="477.1" x2="664.9" y2="480.8" stroke="#3a3a3a" stroke-width="1.2" />
<text class="s" x="664.9" y="492.9" font-size="11" text-anchor="middle" fill="#262626" >8</text>
<line x1="715.1" y1="477.1" x2="715.1" y2="480.8" stroke="#3a3a3a" stroke-width="1.2" />
<text class="s" x="715.1" y="492.9" font-size="11" text-anchor="middle" fill="#262626" >10</text>
<line x1="765.3" y1="477.1" x2="765.3" y2="480.8" stroke="#3a3a3a" stroke-width="1.2" />
<text class="s" x="765.3" y="492.9" font-size="11" text-anchor="middle" fill="#262626" >12</text>
<text class="s" x="614.6" y="506.9" font-size="11" text-anchor="middle" fill="#262626" >Months after baseline</text>
<text class="s" transform="translate(419.1,369.2) rotate(-90)" font-size="11" text-anchor="middle" fill="#262626">SV95C change (%)</text>
<polyline points="464.1,366.6 539.4,271.7 614.7,298.8" fill="none" stroke="#8f8f8f" stroke-width="1.8" stroke-linejoin="miter" stroke-opacity="0.48"/>
<polyline points="464.1,366.6 539.4,349.7 614.7,338.9 690,294 765.3,320" fill="none" stroke="#8f8f8f" stroke-width="1.8" stroke-linejoin="miter" stroke-opacity="0.48"/>
<polyline points="464.1,366.6 539.4,356 614.7,345.4 690,296.7 765.3,314.7" fill="none" stroke="#8f8f8f" stroke-width="1.8" stroke-linejoin="miter" stroke-opacity="0.48"/>
<polyline points="464.1,366.6 539.4,396.2 614.7,422.3 690,466.3 765.3,433.3" fill="none" stroke="#8f8f8f" stroke-width="1.8" stroke-linejoin="miter" stroke-opacity="0.48"/>
<polyline points="464.1,366.6 539.4,417.4" fill="none" stroke="#8f8f8f" stroke-width="1.8" stroke-linejoin="miter" stroke-opacity="0.48"/>
<polyline points="464.1,366.6 539.4,404.5" fill="none" stroke="#8f8f8f" stroke-width="1.8" stroke-linejoin="miter" stroke-opacity="0.48"/>
<polyline points="464.1,366.6 539.4,397.5" fill="none" stroke="#8f8f8f" stroke-width="1.8" stroke-linejoin="miter" stroke-opacity="0.48"/>
<polyline points="464.1,366.6 539.4,338.9 614.7,349.7" fill="none" stroke="#8f8f8f" stroke-width="1.8" stroke-linejoin="miter" stroke-opacity="0.48"/>
<polyline points="464.1,366.6 539.4,341.2 614.7,358.1 690,370.8" fill="none" stroke="#8f8f8f" stroke-width="1.8" stroke-linejoin="miter" stroke-opacity="0.48"/>
<polyline points="464.1,366.6 539.4,387.8 614.7,414.5 690,438.4" fill="none" stroke="#8f8f8f" stroke-width="1.8" stroke-linejoin="miter" stroke-opacity="0.48"/>
<polyline points="464.1,366.6 539.4,379.3 614.7,392 690,410.2" fill="none" stroke="#8f8f8f" stroke-width="1.8" stroke-linejoin="miter" stroke-opacity="0.48"/>
<polyline points="464.1,366.6 539.4,383.5 614.7,398.4 690,416.6" fill="none" stroke="#8f8f8f" stroke-width="1.8" stroke-linejoin="miter" stroke-opacity="0.48"/>
<polyline points="464.1,366.6 539.4,388.5 614.7,378.3 690,337.3 765.3,312.6" fill="none" stroke="#8f8f8f" stroke-width="1.8" stroke-linejoin="miter" stroke-opacity="0.48"/>
<polyline points="464.1,366.6 539.4,379.5 614.7,399.1 690,376.3 765.3,340.8" fill="none" stroke="#8f8f8f" stroke-width="1.8" stroke-linejoin="miter" stroke-opacity="0.48"/>
<polyline points="464.1,366.6 539.4,366.9 614.7,356.8 690,380.9 765.3,353.3" fill="none" stroke="#8f8f8f" stroke-width="1.8" stroke-linejoin="miter" stroke-opacity="0.48"/>
<polyline points="464.1,366.6 539.4,389.4 614.7,373.9 690,358.6 765.3,357.9" fill="none" stroke="#8f8f8f" stroke-width="1.8" stroke-linejoin="miter" stroke-opacity="0.48"/>
<polyline points="464.1,366.6 539.4,353.5 614.7,351.8 690,359.5 765.3,361.1" fill="none" stroke="#8f8f8f" stroke-width="1.8" stroke-linejoin="miter" stroke-opacity="0.48"/>
<polyline points="464.1,366.6 539.4,376.4 614.7,339.8 690,358 765.3,364.3" fill="none" stroke="#8f8f8f" stroke-width="1.8" stroke-linejoin="miter" stroke-opacity="0.48"/>
<polyline points="464.1,366.6 539.4,382.9 614.7,398 690,380.7 765.3,367.4" fill="none" stroke="#8f8f8f" stroke-width="1.8" stroke-linejoin="miter" stroke-opacity="0.48"/>
<polyline points="464.1,366.6 539.4,371.1 614.7,380.3 690,376.8 765.3,373.8" fill="none" stroke="#8f8f8f" stroke-width="1.8" stroke-linejoin="miter" stroke-opacity="0.48"/>
<polyline points="464.1,366.6 539.4,369.5 614.7,364.1 690,348 765.3,378.5" fill="none" stroke="#8f8f8f" stroke-width="1.8" stroke-linejoin="miter" stroke-opacity="0.48"/>
<polyline points="464.1,366.6 539.4,370.3 614.7,401.3 690,375.5 765.3,383.1" fill="none" stroke="#8f8f8f" stroke-width="1.8" stroke-linejoin="miter" stroke-opacity="0.48"/>
<polyline points="464.1,366.6 539.4,391 614.7,387.7 690,411.1 765.3,386.3" fill="none" stroke="#8f8f8f" stroke-width="1.8" stroke-linejoin="miter" stroke-opacity="0.48"/>
<polyline points="464.1,366.6 539.4,372.9 614.7,387.7 690,379.9 765.3,389.5" fill="none" stroke="#8f8f8f" stroke-width="1.8" stroke-linejoin="miter" stroke-opacity="0.48"/>
<polyline points="464.1,366.6 539.4,341.2 614.7,361 690,355.5 765.3,392.4" fill="none" stroke="#8f8f8f" stroke-width="1.8" stroke-linejoin="miter" stroke-opacity="0.48"/>
<polyline points="464.1,366.6 539.4,389.8 614.7,388.8 690,373.8 765.3,395.6" fill="none" stroke="#8f8f8f" stroke-width="1.8" stroke-linejoin="miter" stroke-opacity="0.48"/>
<polyline points="464.1,366.6 539.4,374.1 614.7,371.2 690,377.1 765.3,400.5" fill="none" stroke="#8f8f8f" stroke-width="1.8" stroke-linejoin="miter" stroke-opacity="0.48"/>
<polyline points="464.1,366.6 539.4,385.7 614.7,374.2 690,396.9 765.3,403.4" fill="none" stroke="#8f8f8f" stroke-width="1.8" stroke-linejoin="miter" stroke-opacity="0.48"/>
<polyline points="464.1,366.6 539.4,349.2 614.7,371.7 690,368.5 765.3,408.1" fill="none" stroke="#8f8f8f" stroke-width="1.8" stroke-linejoin="miter" stroke-opacity="0.48"/>
<polyline points="464.1,366.6 539.4,372.9 614.7,362 690,389.7 765.3,413" fill="none" stroke="#8f8f8f" stroke-width="1.8" stroke-linejoin="miter" stroke-opacity="0.48"/>
<polyline points="464.1,366.6 539.4,360.3 614.7,371.6 690,359.9 765.3,416.1" fill="none" stroke="#8f8f8f" stroke-width="1.8" stroke-linejoin="miter" stroke-opacity="0.48"/>
<polyline points="464.1,366.6 539.4,365 614.7,370.1 690,399.5 765.3,420.8" fill="none" stroke="#8f8f8f" stroke-width="1.8" stroke-linejoin="miter" stroke-opacity="0.48"/>
<polyline points="464.1,366.6 539.4,363.2 614.7,364.3 690,351.8 765.3,425.5" fill="none" stroke="#8f8f8f" stroke-width="1.8" stroke-linejoin="miter" stroke-opacity="0.48"/>
<polyline points="464.1,366.6 539.4,377.7 614.7,370.3 690,378.3 765.3,431.8" fill="none" stroke="#8f8f8f" stroke-width="1.8" stroke-linejoin="miter" stroke-opacity="0.48"/>
<polyline points="464.1,366.6 539.4,369.4 614.7,371.2 690,386 765.3,435" fill="none" stroke="#8f8f8f" stroke-width="1.8" stroke-linejoin="miter" stroke-opacity="0.48"/>
<polyline points="464.1,366.6 539.4,380.6 614.7,395 690,410.3 765.3,439.7" fill="none" stroke="#8f8f8f" stroke-width="1.8" stroke-linejoin="miter" stroke-opacity="0.48"/>
<polyline points="464.1,366.6 539.4,365.4 614.7,350 690,364.9 765.3,450.7" fill="none" stroke="#8f8f8f" stroke-width="1.8" stroke-linejoin="miter" stroke-opacity="0.48"/>
<polyline points="464.1,366.6 539.4,359.6 614.7,357.9 690,350.8" fill="none" stroke="#8f8f8f" stroke-width="1.8" stroke-linejoin="miter" stroke-opacity="0.48"/>
<polyline points="464.1,366.6 539.4,370.6 614.7,363.5 690,334.8" fill="none" stroke="#8f8f8f" stroke-width="1.8" stroke-linejoin="miter" stroke-opacity="0.48"/>
<polyline points="464.1,366.6 539.4,377.1 614.7,388.5 690,342.5" fill="none" stroke="#8f8f8f" stroke-width="1.8" stroke-linejoin="miter" stroke-opacity="0.48"/>
<polyline points="464.1,366.6 539.4,369.8 614.7,360.2 690,348.5" fill="none" stroke="#8f8f8f" stroke-width="1.8" stroke-linejoin="miter" stroke-opacity="0.48"/>
<polyline points="464.1,366.6 539.4,387.4 614.7,347.3 690,334.8" fill="none" stroke="#8f8f8f" stroke-width="1.8" stroke-linejoin="miter" stroke-opacity="0.48"/>
<polyline points="464.1,366.6 539.4,370.7 614.7,363.9 690,366.5" fill="none" stroke="#8f8f8f" stroke-width="1.8" stroke-linejoin="miter" stroke-opacity="0.48"/>
<polyline points="464.1,366.6 539.4,384.2 614.7,383.4 690,373" fill="none" stroke="#8f8f8f" stroke-width="1.8" stroke-linejoin="miter" stroke-opacity="0.48"/>
<polyline points="464.1,366.6 539.4,358.8 614.7,358.5 690,364.7" fill="none" stroke="#8f8f8f" stroke-width="1.8" stroke-linejoin="miter" stroke-opacity="0.48"/>
<polyline points="464.1,366.6 539.4,355.7 614.7,378.8 690,361.4" fill="none" stroke="#8f8f8f" stroke-width="1.8" stroke-linejoin="miter" stroke-opacity="0.48"/>
<polyline points="464.1,366.6 539.4,358.8 614.7,373.4 690,412.8" fill="none" stroke="#8f8f8f" stroke-width="1.8" stroke-linejoin="miter" stroke-opacity="0.48"/>
<polyline points="464.1,366.6 539.4,384.5 614.7,378.4 690,366.7" fill="none" stroke="#8f8f8f" stroke-width="1.8" stroke-linejoin="miter" stroke-opacity="0.48"/>
<polyline points="464.1,366.6 539.4,353.3 614.7,381.2 690,379.5" fill="none" stroke="#8f8f8f" stroke-width="1.8" stroke-linejoin="miter" stroke-opacity="0.48"/>
<polyline points="464.1,366.6 539.4,364.7 614.7,374.3 690,425.7" fill="none" stroke="#8f8f8f" stroke-width="1.8" stroke-linejoin="miter" stroke-opacity="0.48"/>
<polyline points="464.1,366.6 539.4,362.7 614.7,336.7 690,334.8" fill="none" stroke="#8f8f8f" stroke-width="1.8" stroke-linejoin="miter" stroke-opacity="0.48"/>
<polyline points="464.1,366.6 539.4,384.6 614.7,388.1 690,379" fill="none" stroke="#8f8f8f" stroke-width="1.8" stroke-linejoin="miter" stroke-opacity="0.48"/>
<polyline points="464.1,366.6 539.4,341.3 614.7,351.2 690,359.2" fill="none" stroke="#8f8f8f" stroke-width="1.8" stroke-linejoin="miter" stroke-opacity="0.48"/>
<polyline points="464.1,366.6 539.4,353.2 614.7,367.4 690,334.8" fill="none" stroke="#8f8f8f" stroke-width="1.8" stroke-linejoin="miter" stroke-opacity="0.48"/>
<polyline points="464.1,366.6 539.4,381.7 614.7,387.5 690,368.1" fill="none" stroke="#8f8f8f" stroke-width="1.8" stroke-linejoin="miter" stroke-opacity="0.48"/>
<polyline points="464.1,366.6 539.4,354.9 614.7,357.4" fill="none" stroke="#8f8f8f" stroke-width="1.8" stroke-linejoin="miter" stroke-opacity="0.48"/>
<polyline points="464.1,366.6 539.4,369.1 614.7,401.2" fill="none" stroke="#8f8f8f" stroke-width="1.8" stroke-linejoin="miter" stroke-opacity="0.48"/>
<polyline points="464.1,366.6 539.4,382 614.7,389.7" fill="none" stroke="#8f8f8f" stroke-width="1.8" stroke-linejoin="miter" stroke-opacity="0.48"/>
<polyline points="464.1,366.6 539.4,379.7 614.7,370.8" fill="none" stroke="#8f8f8f" stroke-width="1.8" stroke-linejoin="miter" stroke-opacity="0.48"/>
<polyline points="464.1,366.6 539.4,377.2 614.7,366.6" fill="none" stroke="#8f8f8f" stroke-width="1.8" stroke-linejoin="miter" stroke-opacity="0.48"/>
<polyline points="464.1,366.6 539.4,371.9 614.7,380.5" fill="none" stroke="#8f8f8f" stroke-width="1.8" stroke-linejoin="miter" stroke-opacity="0.48"/>
<polyline points="464.1,366.6 539.4,371.5 614.7,369" fill="none" stroke="#8f8f8f" stroke-width="1.8" stroke-linejoin="miter" stroke-opacity="0.48"/>
<polyline points="464.1,366.6 539.4,362 614.7,377.8" fill="none" stroke="#8f8f8f" stroke-width="1.8" stroke-linejoin="miter" stroke-opacity="0.48"/>
<polyline points="464.1,366.6 539.4,375.9 614.7,397.8" fill="none" stroke="#8f8f8f" stroke-width="1.8" stroke-linejoin="miter" stroke-opacity="0.48"/>
<polyline points="464.1,366.6 539.4,352.6 614.7,344.4" fill="none" stroke="#8f8f8f" stroke-width="1.8" stroke-linejoin="miter" stroke-opacity="0.48"/>
<polyline points="464.1,366.6 539.4,375.2 614.7,384.4" fill="none" stroke="#8f8f8f" stroke-width="1.8" stroke-linejoin="miter" stroke-opacity="0.48"/>
<polyline points="464.1,366.6 539.4,388.7 614.7,381.5" fill="none" stroke="#8f8f8f" stroke-width="1.8" stroke-linejoin="miter" stroke-opacity="0.48"/>
<polyline points="464.1,366.6 539.4,370.3 614.7,342.5" fill="none" stroke="#8f8f8f" stroke-width="1.8" stroke-linejoin="miter" stroke-opacity="0.48"/>
<polyline points="464.1,366.6 539.4,369.8 614.7,386.1" fill="none" stroke="#8f8f8f" stroke-width="1.8" stroke-linejoin="miter" stroke-opacity="0.48"/>
<polyline points="464.1,366.6 539.4,400.5 614.7,369" fill="none" stroke="#8f8f8f" stroke-width="1.8" stroke-linejoin="miter" stroke-opacity="0.48"/>
<polyline points="464.1,366.6 539.4,370.5 614.7,398.8" fill="none" stroke="#8f8f8f" stroke-width="1.8" stroke-linejoin="miter" stroke-opacity="0.48"/>
<polyline points="464.1,366.6 539.4,370.3" fill="none" stroke="#8f8f8f" stroke-width="1.8" stroke-linejoin="miter" stroke-opacity="0.48"/>
<polyline points="464.1,366.6 539.4,396.8" fill="none" stroke="#8f8f8f" stroke-width="1.8" stroke-linejoin="miter" stroke-opacity="0.48"/>
<polyline points="464.1,366.6 539.4,341.2" fill="none" stroke="#8f8f8f" stroke-width="1.8" stroke-linejoin="miter" stroke-opacity="0.48"/>
<polyline points="464.1,366.6 539.4,356.4" fill="none" stroke="#8f8f8f" stroke-width="1.8" stroke-linejoin="miter" stroke-opacity="0.48"/>
<polyline points="464.1,366.6 539.4,364.5" fill="none" stroke="#8f8f8f" stroke-width="1.8" stroke-linejoin="miter" stroke-opacity="0.48"/>
<polyline points="464.1,366.6 539.4,375.5" fill="none" stroke="#8f8f8f" stroke-width="1.8" stroke-linejoin="miter" stroke-opacity="0.48"/>
<polyline points="464.1,366.6 539.4,400.5" fill="none" stroke="#8f8f8f" stroke-width="1.8" stroke-linejoin="miter" stroke-opacity="0.48"/>
<polyline points="464.1,366.6 539.4,374.8" fill="none" stroke="#8f8f8f" stroke-width="1.8" stroke-linejoin="miter" stroke-opacity="0.48"/>
<polyline points="464.1,366.6 539.4,396" fill="none" stroke="#8f8f8f" stroke-width="1.8" stroke-linejoin="miter" stroke-opacity="0.48"/>
<polyline points="464.1,366.6 539.4,364.1" fill="none" stroke="#8f8f8f" stroke-width="1.8" stroke-linejoin="miter" stroke-opacity="0.48"/>
<polyline points="464.1,366.6 539.4,400.5" fill="none" stroke="#8f8f8f" stroke-width="1.8" stroke-linejoin="miter" stroke-opacity="0.48"/>
<polyline points="464.1,366.6 539.4,386.4" fill="none" stroke="#8f8f8f" stroke-width="1.8" stroke-linejoin="miter" stroke-opacity="0.48"/>
<polyline points="464.1,366.6 539.4,316.2 614.7,297.4 690,292.7 765.3,304.6" fill="none" stroke="#444444" stroke-width="1.8" stroke-linejoin="miter" />
<polyline points="464.1,366.6 539.4,325.1 614.7,335.3 690,374.9" fill="none" stroke="#444444" stroke-width="1.8" stroke-linejoin="miter" />
<polyline points="464.1,366.6 539.4,344.4 614.7,330.6 690,342.2 765.3,323.2" fill="none" stroke="#444444" stroke-width="1.8" stroke-linejoin="miter" />
<polyline points="464.1,366.6 539.4,341.2 614.7,335.9 690,318.3 765.3,323.2" fill="none" stroke="#444444" stroke-width="1.8" stroke-linejoin="miter" />
<polyline points="464.1,366.6 539.4,359.6 614.7,345.2 690,337.2" fill="none" stroke="#444444" stroke-width="1.8" stroke-linejoin="miter" />
<polyline points="464.1,366.6 539.4,363.2 614.7,343.3 690,360.2" fill="none" stroke="#444444" stroke-width="1.8" stroke-linejoin="miter" />
<polyline points="464.1,366.6 539.4,350.5 614.7,354.5 690,357.7 765.3,402.6" fill="none" stroke="#444444" stroke-width="1.8" stroke-linejoin="miter" />
<polyline points="464.1,366.6 539.4,360.2" fill="none" stroke="#444444" stroke-width="1.8" stroke-linejoin="miter" />
<rect x="454.8" y="438.3" width="152.6" height="33" rx="2.5" fill="#fff" fill-opacity="0.85" stroke="#d4d4d4" stroke-width="1"/>
<line x1="457.6" y1="445.8" x2="480.8" y2="445.8" stroke="#8f8f8f" stroke-width="1.6" stroke-opacity="0.48"/>
<line x1="457.6" y1="461.5" x2="480.8" y2="461.5" stroke="#444444" stroke-width="1.8" />
<text x="489.6" y="449.6" font-size="10.8" text-anchor="start" fill="#262626" class="s">Stable steroids regimen</text>
<text x="489.6" y="465.3" font-size="10.8" text-anchor="start" fill="#262626" class="s">Initiating steroids</text>
</svg></body></html>
